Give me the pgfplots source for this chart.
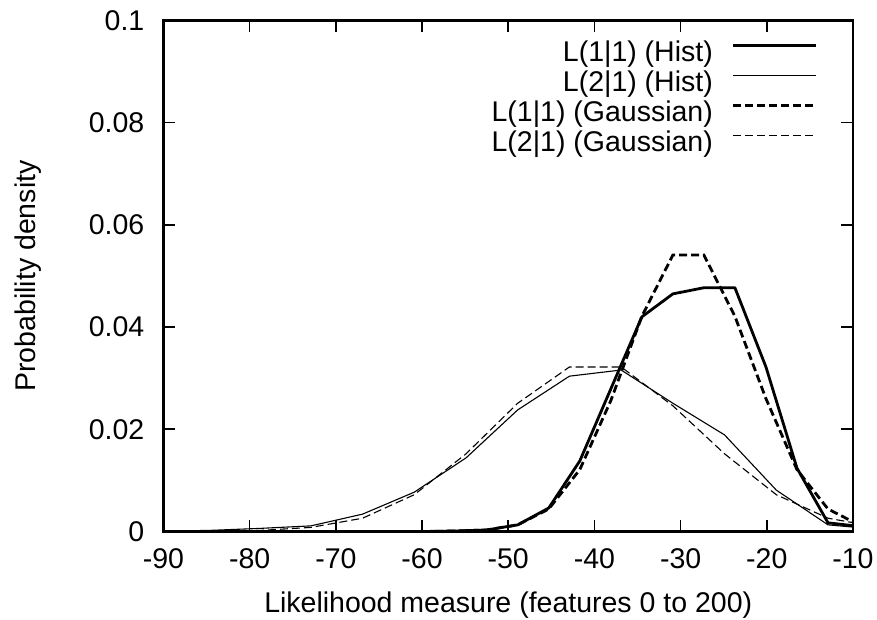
\documentclass[border=0pt]{standalone}
\usepackage{fontspec}
\setmainfont{Liberation Sans}
\usepackage{pgfplots}
\usepackage{pgfplotstable}
\pgfplotsset{compat=1.18}

\pgfplotstableread{
x y
-9.3 0.0010
-12.9 0.0017
-16.5 0.0124
-20.1 0.0322
-23.7 0.0477
-27.3 0.0477
-30.9 0.0465
-34.5 0.0420
-38.1 0.0279
-41.7 0.0138
-45.3 0.0046
-48.9 0.0013
-52.5 0.0003
-56.1 0.0001
-59.7 0.0000
-63.3 0.0000
-66.9 0.0000
-70.5 0.0000
-74.1 0.0000
-77.7 0.0000
-81.3 0.0000
-84.9 0.0000
-88.5 0.0000
-92.1 0.0000
}\histA

\pgfplotstableread{
x y
-6.9 0.0004
-12.9 0.0013
-18.9 0.0081
-24.9 0.0189
-30.9 0.0251
-36.9 0.0316
-42.9 0.0304
-48.9 0.0238
-54.9 0.0144
-60.9 0.0077
-66.9 0.0034
-72.9 0.0011
-78.9 0.0006
-84.9 0.0002
-90.9 0.0001
}\histB

\pgfplotstableread{
x y
-9.3 0.0013
-12.9 0.0044
-16.5 0.0121
-20.1 0.0260
-23.7 0.0421
-27.3 0.0541
-30.9 0.0541
-34.5 0.0421
-38.1 0.0256
-41.7 0.0121
-45.3 0.0044
-48.9 0.0013
-52.5 0.0003
-56.1 0.0001
-59.7 0.0000
-63.3 0.0000
-66.9 0.0000
-70.5 0.0000
-74.1 0.0000
-77.7 0.0000
-81.3 0.0000
-84.9 0.0000
-88.5 0.0000
-92.1 0.0000
}\gaussA

\pgfplotstableread{
x y
-6.9 0.0008
-12.9 0.0026
-18.9 0.0072
-24.9 0.0152
-30.9 0.0246
-36.9 0.0322
-42.9 0.0322
-48.9 0.0251
-54.9 0.0152
-60.9 0.0072
-66.9 0.0026
-72.9 0.0008
-78.9 0.0002
-84.9 0.0000
-90.9 0.0000
}\gaussB

\begin{document}
\fontsize{28.5}{34}\selectfont
\begin{tikzpicture}
\useasboundingbox (-163.5pt,-88.5pt) rectangle (713.5pt,531.5pt);
\begin{axis}[
  at={(0pt,0pt)}, anchor=south west,
  scale only axis, width=689.5pt, height=511pt,
  xmin=-90, xmax=-10, ymin=0, ymax=0.1,
  xtick={-90,-80,-70,-60,-50,-40,-30,-20,-10},
  xticklabels={-90,-80,-70,-60,-50,-40,-30,-20,-10},
  ytick={0,0.02,0.04,0.06,0.08,0.1},
  yticklabels={0,0.02,0.04,0.06,0.08,0.1},
  xtick pos=both, ytick pos=both,
  tick align=inside,
  major tick length=12pt,
  every tick/.style={black, line width=1.6pt},
  axis line style={black, line width=2.4pt},
  xticklabel style={inner sep=0pt, anchor=north, yshift=-16.5pt},
  yticklabel style={inner sep=0pt, anchor=east, xshift=-19pt},
  xlabel={Likelihood measure (features 0 to 200)},
  ylabel={Probability density},
  xlabel style={at={(axis description cs:0.5,0)}, anchor=north, inner sep=0pt, yshift=-60pt},
  ylabel style={at={(axis description cs:-0.2154,0.5)}, rotate=0, anchor=north, inner sep=0pt},
  legend style={draw=none, fill=none, at={(0.949,0.960)}, anchor=north east,
    inner sep=0pt, row sep=0pt, column sep=19pt,
    nodes={inner sep=0pt, text height=20pt, text depth=10pt}},
  legend cell align=right,
  legend plot pos=right,
  legend image code/.code={\draw[#1] (0pt,10.4pt) -- (83pt,10.4pt);},
]
\addplot[black, line width=2.8pt, line join=round] table[x=x,y=y] {\histA};
\addlegendentry{L(1|1) (Hist)}
\addplot[black, line width=1.1pt, line join=round] table[x=x,y=y] {\histB};
\addlegendentry{L(2|1) (Hist)}
\addplot[black, line width=2.8pt, dash pattern=on 8pt off 4pt] table[x=x,y=y] {\gaussA};
\addlegendentry{L(1|1) (Gaussian)}
\addplot[black, line width=1.1pt, dash pattern=on 8pt off 4pt] table[x=x,y=y] {\gaussB};
\addlegendentry{L(2|1) (Gaussian)}
\end{axis}
\end{tikzpicture}
\end{document}
